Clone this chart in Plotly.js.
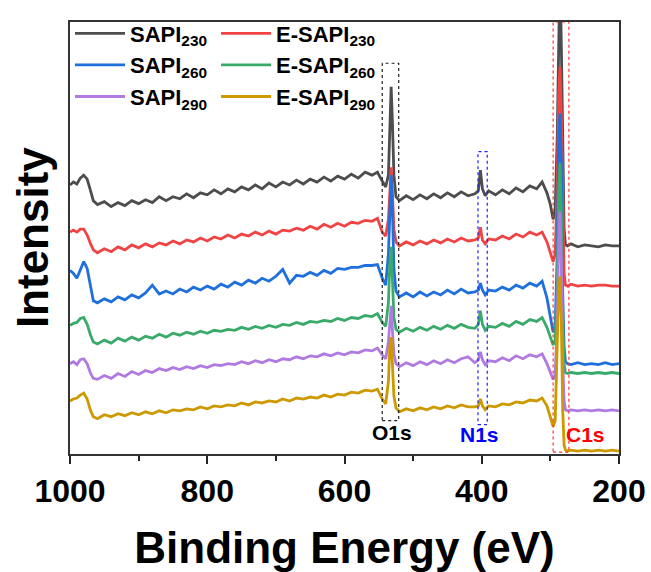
<!DOCTYPE html>
<html>
<head>
<meta charset="utf-8">
<script src="https://cdn.plot.ly/plotly-3.0.1.min.js"></script>
<style>html,body{margin:0;padding:0;background:#fff;}#chart{width:651px;height:572px;}</style>
</head>
<body>
<div id="chart"></div>
<script>
// Binding energy (eV), shared by all spectra
const energy = [1000,995,990,985,980,975,970,966,960,950,
 940,930,920,910,900,890,880,870,860,850,
 840,830,820,810,800,790,780,770,760,750,
 740,730,720,710,700,690,680,670,660,650,
 640,630,620,610,600,590,580,570,560,552,
 545,540,536,534,532,530,528,525,520,510,
 500,490,480,470,460,450,440,430,420,410,
 405,402,399,395,390,380,370,360,350,340,
 330,320,312,305,300,296,293,290,288,286,
 284,282,280,278,275,270,260,250,240,230,
 220,210,200];

const seriesNames = ['SAPI<sub>230</sub>','E-SAPI<sub>230</sub>','SAPI<sub>260</sub>','E-SAPI<sub>260</sub>','SAPI<sub>290</sub>','E-SAPI<sub>290</sub>'];

// Intensities (stacked, arbitrary units)
const sapi230 = [274,277,275,281,284,280,268,258,254,257,
 252,256,253,258,255,259,256,262,258,262,
 260,265,261,266,264,269,265,270,267,272,
 269,274,270,276,272,277,274,279,275,280,
 277,282,278,283,280,285,281,287,284,287,
 278,272,284,334,374,334,284,262,258,263,
 259,264,260,265,261,266,262,267,263,265,
 268,289,270,263,268,264,269,265,271,267,
 273,270,277,266,254,239,249,324,434,494,
 414,294,229,213,212,214,211,213,212,211,
 213,212,212];
const esapi230 = [226,228,226,229,229,223,214,208,205,209,
 206,211,208,213,210,214,211,215,213,217,
 214,218,216,220,217,221,219,223,220,224,
 222,226,223,227,224,228,227,230,228,232,
 229,234,231,235,232,236,235,238,237,240,
 226,222,239,274,292,264,229,216,212,216,
 213,217,214,218,215,219,216,220,217,218,
 220,231,218,214,219,218,222,219,224,221,
 226,223,226,216,206,196,204,274,364,394,
 344,234,184,172,171,173,171,172,171,172,
 172,171,171];
const sapi260 = [187,184,179,188,196,189,169,156,154,158,
 155,160,157,162,159,164,172,163,166,163,
 168,165,170,167,171,168,173,170,175,172,
 177,174,179,176,181,188,174,182,181,185,
 182,187,184,189,188,190,190,192,192,193,
 179,172,204,254,284,244,189,166,160,164,
 160,165,161,165,162,167,163,168,164,165,
 167,174,167,162,167,166,170,167,172,169,
 174,171,176,159,139,124,129,204,314,347,
 294,164,109,94,92,91,93,91,92,91,
 93,91,92];
const esapi260 = [131,133,134,138,139,132,121,114,112,116,
 113,118,115,119,116,120,118,122,119,123,
 121,124,122,125,123,126,125,127,126,129,
 127,130,128,131,129,132,131,134,132,135,
 134,136,135,138,136,139,138,141,140,143,
 134,130,154,194,211,174,139,127,124,128,
 125,129,126,130,127,131,128,132,129,128,
 132,146,132,126,130,129,133,130,135,132,
 137,135,139,129,118,111,116,174,264,296,
 244,134,92,83,82,83,82,83,82,83,
 82,83,82];
const sapi290 = [92,94,91,96,97,92,82,77,76,80,
 77,82,79,84,81,85,83,87,85,88,
 86,89,87,90,88,91,90,92,91,94,
 92,95,93,96,94,97,96,99,97,100,
 99,102,100,103,101,104,103,106,105,108,
 101,97,114,139,151,124,102,92,89,93,
 90,94,91,95,92,96,93,97,99,93,
 96,104,96,91,95,94,98,95,100,97,
 101,99,102,92,82,76,81,134,214,247,
 194,94,54,45,44,45,44,45,44,45,
 44,45,44];
const esapi290 = [54,56,57,60,62,56,44,38,36,40,
 38,41,39,42,40,43,41,44,42,45,
 44,46,45,48,46,49,48,50,49,52,
 50,53,52,54,53,56,54,57,56,58,
 57,60,58,61,60,63,62,65,64,66,
 56,51,74,109,119,94,59,47,43,46,
 44,47,45,48,46,49,47,50,48,48,
 49,56,49,45,49,48,51,50,53,52,
 55,54,57,49,38,28,34,104,164,181,
 134,44,9,4,3,4,3,4,3,4,
 3,4,3];

const xTickVals = [1000,800,600,400,200];
const peakLabels = ['O1s','N1s','C1s'];
const peakBoxes = [[545,521,34,398],[405.5,392,30,308],[296,273,2,440]];
const peakLabelPos = [[531,22],[404,20],[249,20]];

const colors = ['#4d4d4d','#f04444','#1f6fdc','#3aaa6a','#b07ae0','#cc9900'];
const boxColors = ['#222222','#2222ff','#ff3333'];
const labelColors = ['#000000','#0000ff','#ff0000'];

const allY = [sapi230, esapi230, sapi260, esapi260, sapi290, esapi290];
const legendIds = ['legend','legend2','legend','legend2','legend','legend2'];

const traces = allY.map((y,i)=>({
  x: energy, y: y, type:'scatter', mode:'lines', name: seriesNames[i],
  line:{color:colors[i], width:2.8}, legend: legendIds[i]
}));

const F = '"Liberation Sans", Arial, sans-serif';
const shapes = peakBoxes.map((b,i)=>({type:'rect', xref:'x', yref:'y', x0:b[0], x1:b[1], y0:b[2], y1:b[3],
  line:{color:boxColors[i], width:1.2, dash:'dot'}, fillcolor:'rgba(0,0,0,0)'}));
const annotations = peakLabels.map((t,i)=>({x:peakLabelPos[i][0], y:peakLabelPos[i][1], xref:'x', yref:'y', text:t,
  showarrow:false, font:{family:F, size:21, color:labelColors[i], weight:'bold'}}));
annotations.push({x:-0.069, y:0.5, xref:'paper', yref:'paper', text:'Intensity', textangle:-90,
  xanchor:'center', yanchor:'middle', showarrow:false, font:{family:F, size:44, color:'#000', weight:'bold'}});

const layout = {
  width:651, height:572,
  margin:{l:70, r:32, t:14, b:118},
  paper_bgcolor:'#fff', plot_bgcolor:'#fff',
  showlegend:true,
  xaxis:{range:[1000,200], tickvals:xTickVals, ticks:'outside', ticklen:8, tickwidth:2, tickcolor:'#222',
    showline:true, linecolor:'#333', linewidth:2, mirror:true, showgrid:false, zeroline:false,
    minor:{dtick:100, tick0:0, ticks:'outside', ticklen:5, tickwidth:2, tickcolor:'#222', showgrid:false},
    tickfont:{family:F, size:32, color:'#000', weight:'bold'},
    title:{text:'Binding Energy (eV)', font:{family:F, size:44, color:'#000', weight:'bold'}}},
  yaxis:{range:[0,440], showticklabels:false, ticks:'', showgrid:false, zeroline:false,
    showline:true, linecolor:'#333', linewidth:2, mirror:true},
  legend:{x:0, xanchor:'left', y:1.022, yanchor:'top', bgcolor:'rgba(0,0,0,0)', itemwidth:50,
    font:{family:F, size:22, color:'#000', weight:'bold'}},
  legend2:{x:0.266, xanchor:'left', y:1.022, yanchor:'top', bgcolor:'rgba(0,0,0,0)', itemwidth:50,
    font:{family:F, size:22, color:'#000', weight:'bold'}},
  shapes: shapes,
  annotations: annotations
};
Plotly.newPlot('chart', traces, layout, {displayModeBar:false, staticPlot:true});
</script>
</body>
</html>
